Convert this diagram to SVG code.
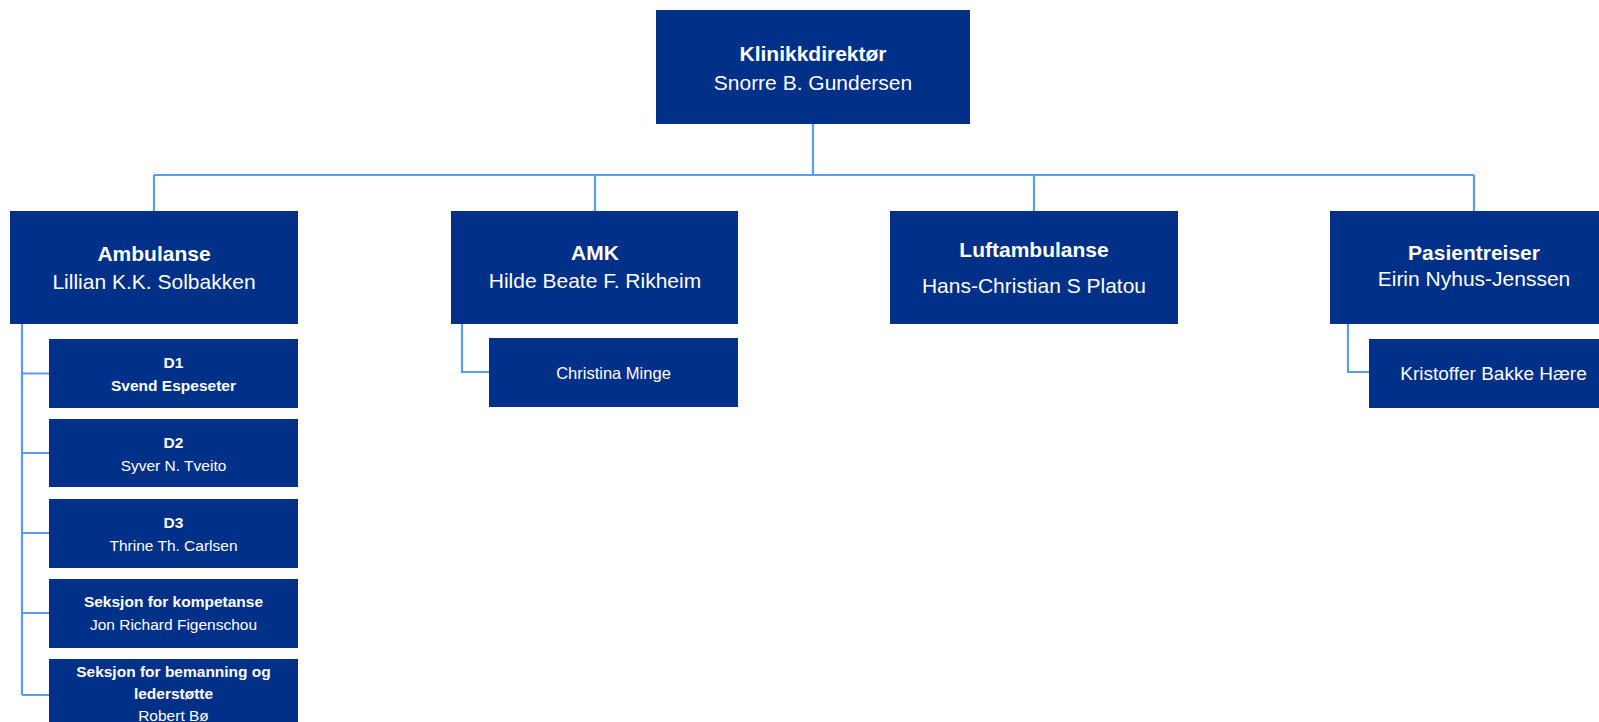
<svg xmlns="http://www.w3.org/2000/svg" width="1599" height="722" viewBox="0 0 1599 722">
<style>
.box{fill:#003087}
.t{fill:#ffffff;font-family:"Liberation Sans",Arial,sans-serif;text-anchor:middle}
.b{font-weight:bold}
.l{font-size:21px}
.s{font-size:15.5px}
.conn{fill:none;stroke:#5c9cec;stroke-width:2.2}
</style>
<rect width="1599" height="722" fill="#ffffff"/>
<g id="connectors" class="conn">
<path d="M813 124V175M154 175H1474M154 175V211M595 175V211M1034 175V211M1474 175V211"/>
<path d="M22 324V695M22 373.5H49M22 453H49M22 533H49M22 613H49M22 695H49"/>
<path d="M462 324V372H489"/>
<path d="M1348 324V372H1369"/>
</g>
<g id="n-klinikkdirektor">
<rect class="box" x="656" y="10" width="314" height="114"/>
<text class="t b l" x="813" y="61">Klinikkdirektør</text>
<text class="t l" x="813" y="90">Snorre B. Gundersen</text>
</g>
<g id="n-ambulanse">
<rect class="box" x="10" y="211" width="288" height="113"/>
<text class="t b l" x="154" y="261">Ambulanse</text>
<text class="t l" x="154" y="289">Lillian K.K. Solbakken</text>
</g>
<g id="n-amk">
<rect class="box" x="451" y="211" width="287" height="113"/>
<text class="t b l" x="595" y="260">AMK</text>
<text class="t l" x="595" y="288">Hilde Beate F. Rikheim</text>
</g>
<g id="n-luftambulanse">
<rect class="box" x="890" y="211" width="288" height="113"/>
<text class="t b l" x="1034" y="257">Luftambulanse</text>
<text class="t l" x="1034" y="293">Hans-Christian S Platou</text>
</g>
<g id="n-pasientreiser">
<rect class="box" x="1330" y="211" width="288" height="113"/>
<text class="t b l" x="1474" y="260">Pasientreiser</text>
<text class="t l" x="1474" y="286">Eirin Nyhus-Jenssen</text>
</g>
<g id="n-d1">
<rect class="box" x="49" y="339" width="249" height="69"/>
<text class="t b s" x="173.5" y="368">D1</text>
<text class="t b s" x="173.5" y="391">Svend Espeseter</text>
</g>
<g id="n-d2">
<rect class="box" x="49" y="419" width="249" height="68"/>
<text class="t b s" x="173.5" y="448">D2</text>
<text class="t s" x="173.5" y="471">Syver N. Tveito</text>
</g>
<g id="n-d3">
<rect class="box" x="49" y="499" width="249" height="69"/>
<text class="t b s" x="173.5" y="528">D3</text>
<text class="t s" x="173.5" y="551">Thrine Th. Carlsen</text>
</g>
<g id="n-kompetanse">
<rect class="box" x="49" y="579" width="249" height="69"/>
<text class="t b s" x="173.5" y="607">Seksjon for kompetanse</text>
<text class="t s" x="173.5" y="630">Jon Richard Figenschou</text>
</g>
<g id="n-bemanning">
<rect class="box" x="49" y="659" width="249" height="90"/>
<text class="t b s" x="173.5" y="677">Seksjon for bemanning og</text>
<text class="t b s" x="173.5" y="699">lederstøtte</text>
<text class="t s" x="173.5" y="721">Robert Bø</text>
</g>
<g id="n-christina">
<rect class="box" x="489" y="338" width="249" height="69"/>
<text class="t" x="613.5" y="379" font-size="16.5">Christina Minge</text>
</g>
<g id="n-kristoffer">
<rect class="box" x="1369" y="339" width="249" height="69"/>
<text class="t" x="1493.5" y="380" font-size="19">Kristoffer Bakke Hære</text>
</g>
</svg>
